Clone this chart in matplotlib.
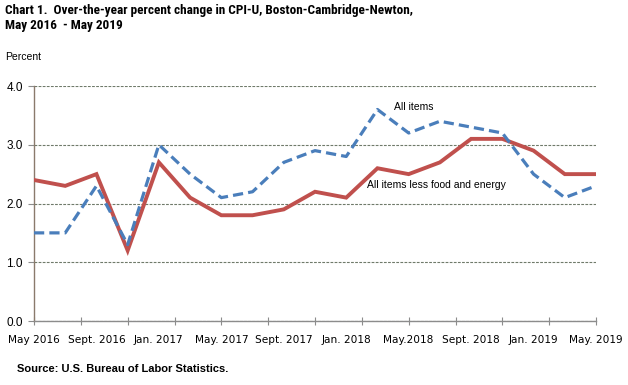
import numpy as np
import matplotlib
matplotlib.use("Agg")
import matplotlib.pyplot as plt
from matplotlib import font_manager

# bimonthly observations, May 2016 - May 2019 (months since May 2016)
months = np.arange(0, 37, 2)
all_items = [1.5, 1.5, 2.3, 1.3, 3.0, 2.5, 2.1, 2.2, 2.7, 2.9,
             2.8, 3.6, 3.2, 3.4, 3.3, 3.2, 2.5, 2.1, 2.3]
core = [2.4, 2.3, 2.5, 1.2, 2.7, 2.1, 1.8, 1.8, 1.9, 2.2,
        2.1, 2.6, 2.5, 2.7, 3.1, 3.1, 2.9, 2.5, 2.5]

label_pos = np.arange(0, 37, 4)
tick_labels = ["May 2016", "Sept. 2016", "Jan. 2017", "May. 2017", "Sept. 2017",
               "Jan. 2018", "May.2018", "Sept. 2018", "Jan. 2019", "May. 2019"]

plt.rcParams["font.family"] = ["Liberation Sans", "DejaVu Sans"]

W, H = 628, 385
fig = plt.figure(figsize=(W / 100, H / 100), dpi=100)
ax = fig.add_axes([34 / W, (H - 321) / H, 562 / W, (321 - 86) / H])

ax.plot(months, core, color="#C0504D", lw=2.8, solid_joinstyle="miter", zorder=3)
ax.plot(months, all_items, color="#4A7EBB", lw=2.3, dashes=(3.2, 1.6), zorder=4)

ax.set_xlim(0, 36)
ax.set_ylim(0, 4)
ax.set_yticks([0, 1, 2, 3, 4])
ax.set_yticklabels(["0.0", "1.0", "2.0", "3.0", "4.0"], fontsize=8.5)
ax.yaxis.grid(True, color="#6f7a6a", lw=0.8, dashes=(2.5, 1.2))
ax.set_axisbelow(True)

ax.xaxis.remove_overlapping_locs = False
ax.set_xticks(np.arange(0, 37, 3))
ax.set_xticklabels([])
ax.tick_params(axis="x", which="major", direction="inout", length=6, color="#8c8c8c")
ax.set_xticks(label_pos, minor=True)
ax.set_xticklabels(tick_labels, minor=True, fontsize=7.6, family="DejaVu Sans")
ax.tick_params(axis="x", which="minor", length=0, pad=10)
ax.tick_params(axis="y", length=4, color="#8c8c8c", pad=4)

for s in ["top", "right"]:
    ax.spines[s].set_visible(False)
ax.spines["left"].set_color("#8a7a6c")
ax.spines["bottom"].set_color("#8c8c8c")
ax.spines["left"].set_linewidth(1)
ax.spines["bottom"].set_linewidth(1)

ax.text(24.3, 3.64, "All items", fontsize=7.5, ha="center", va="center")
ax.text(25.75, 2.31, "All items less food and energy", fontsize=7.5, ha="center", va="center")

# narrow bold face for the title if one is available
names = {f.name for f in font_manager.fontManager.ttflist}
title_font = [n for n in ["Liberation Sans Narrow", "Arial Narrow", "Roboto Condensed",
                          "Open Sans Condensed"] if n in names]
stretch = "normal"
if title_font:
    size = 9.5
else:
    title_font = ["DejaVu Sans"]
    stretch = "condensed"
    size = 9.2
fig.text(5 / W, 1 - 4 / H, "Chart 1.  Over-the-year percent change in CPI-U, Boston-Cambridge-Newton,\nMay 2016  - May 2019",
         fontsize=size, fontweight="bold", family=title_font, fontstretch=stretch,
         va="top", ha="left", linespacing=1.2)
fig.text(5 / W, 1 - 57 / H, "Percent", fontsize=7.5, va="center", ha="left")
fig.text(17 / W, 1 - 369 / H, "Source: U.S. Bureau of Labor Statistics.", fontsize=8,
         fontweight="bold", va="center", ha="left")

fig.savefig("out.png", dpi=100)
